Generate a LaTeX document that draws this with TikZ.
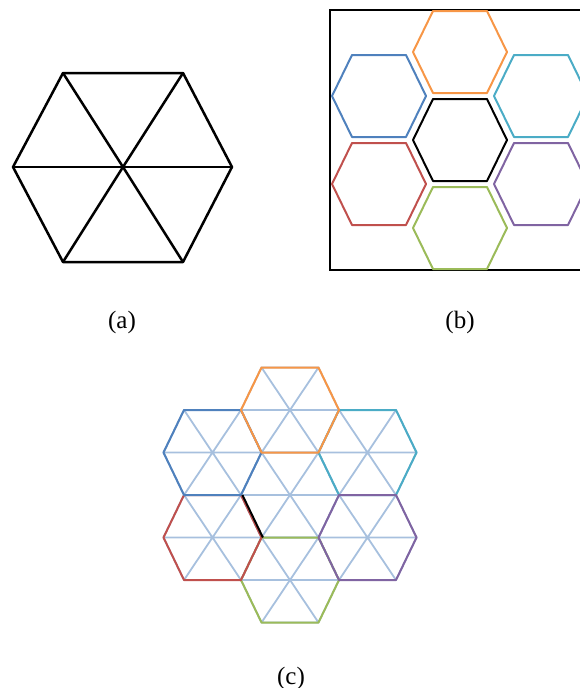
\documentclass[tikz,border=0pt]{standalone}
\usepackage{fontspec}
\setmainfont{Liberation Serif}
\definecolor{hexblue}{HTML}{4F81BD}
\definecolor{hexred}{HTML}{C0504D}
\definecolor{hexgreen}{HTML}{9BBB59}
\definecolor{hexpurple}{HTML}{8064A2}
\definecolor{hexaqua}{HTML}{4BACC6}
\definecolor{hexorange}{HTML}{F79646}
\tikzset{
  heavy/.style={line width=2.5pt, line join=round},
  cell/.style={line width=2pt, line join=round},
  lattice/.style={draw=hexblue!50, line width=1.8pt},
  sublabel/.style={font=\fontsize{25}{29}\selectfont, anchor=base},
}
\begin{document}
\begin{tikzpicture}[x=1pt, y=-1pt]
\useasboundingbox (0,0) rectangle (580,688);
\begin{scope}
\clip (0,0) rectangle (580,688);

% (a) single hexagon cut into six triangles
\coordinate (ctr) at (123,167);
\draw[heavy] (13,167) -- (63,73) -- (183,73) -- (232,167) -- (183,262) -- (63,262) -- cycle;
\draw[heavy] (63,73) -- (ctr) -- (183,262);
\draw[heavy] (183,73) -- (ctr) -- (63,262);
\draw[heavy] (13,167) -- (ctr) -- (232,167);
\node[sublabel] (la) at (122,328) {(a)};

% (b) seven separate cells in a frame
\draw[line width=2pt] (330,10) rectangle (610,270);
\foreach \cx/\cy/\col in {460/52/hexorange, 379/96/hexblue, 541/96/hexaqua,
    460/140/black, 379/184/hexred, 541/184/hexpurple, 460/228/hexgreen}
  \draw[cell, draw=\col, shift={(\cx,\cy)}]
    (-47,0) -- (-27,-41) -- (27,-41) -- (47,0) -- (27,41) -- (-27,41) -- cycle;
\node[sublabel] (lb) at (460,328) {(b)};

% (c) cells joined, each split into triangles
\foreach \cx/\cy in {290/410, 212.5/452.5, 367.5/452.5, 290/495,
    212.5/537.5, 367.5/537.5, 290/580}
  \draw[lattice, shift={(\cx,\cy)}]
    (-49,0) -- (-28.5,-42.5) -- (28.5,-42.5) -- (49,0) -- (28.5,42.5) -- (-28.5,42.5) -- cycle
    (-28.5,-42.5) -- (28.5,42.5) (28.5,-42.5) -- (-28.5,42.5) (-49,0) -- (49,0);
\foreach \cx/\cy/\col in {290/580/hexgreen, 212.5/537.5/hexred, 212.5/452.5/hexblue,
    367.5/452.5/hexaqua, 367.5/537.5/hexpurple, 290/410/hexorange}
  \draw[cell, draw=\col, shift={(\cx,\cy)}]
    (-49,0) -- (-28.5,-42.5) -- (28.5,-42.5) -- (49,0) -- (28.5,42.5) -- (-28.5,42.5) -- cycle;
\draw[cell, black, shift={(1.4,0)}] (241,495) -- (261.5,537.5);
\node[sublabel] (lc) at (291,684) {(c)};
\end{scope}
\end{tikzpicture}
\end{document}
